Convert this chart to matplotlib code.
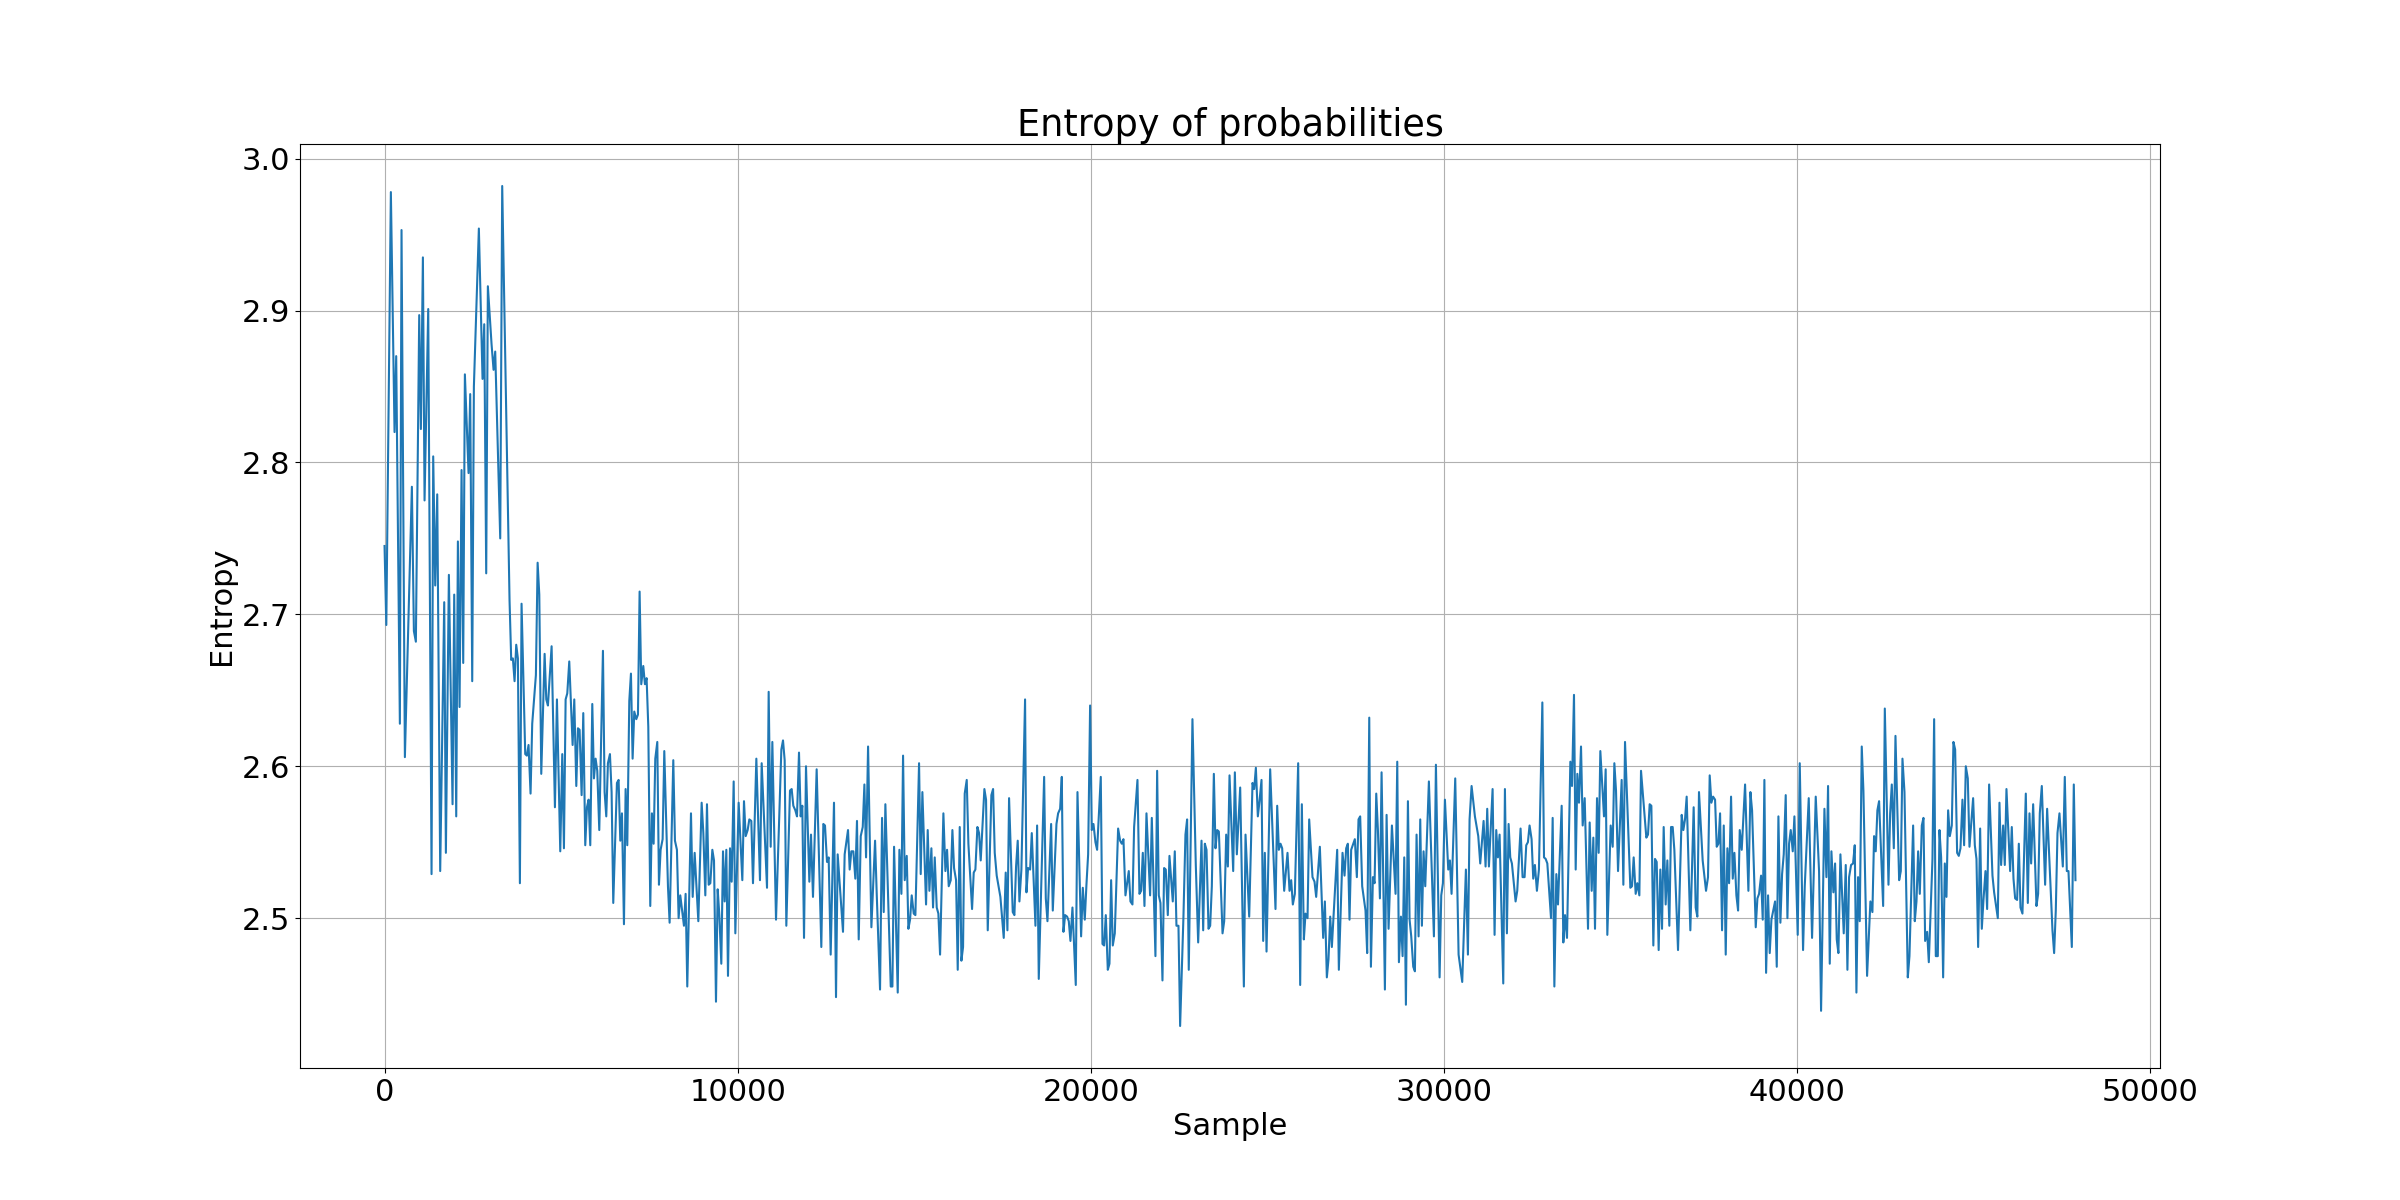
import matplotlib
matplotlib.use("Agg")
import matplotlib.pyplot as plt

# entropy readings, split into chunks along the sample axis
samples_a = [0, 50, 179, 283, 330, 434, 481, 576, 774, 831,
             887, 982, 1029, 1086, 1133, 1237, 1331, 1378, 1435, 1492,
             1576, 1690, 1737, 1822, 1926, 1973, 2030, 2077, 2124, 2181,
             2228, 2275, 2379, 2426, 2483, 2530, 2671, 2775, 2823, 2879,
             2926, 3030, 3087, 3134, 3276, 3332, 3540, 3587, 3634, 3682,
             3729, 3776, 3833, 3880, 3984, 4031, 4078, 4135, 4182, 4286]
entropy_a = [2.745, 2.693, 2.978, 2.820, 2.870, 2.628, 2.953, 2.606, 2.784, 2.689,
             2.682, 2.897, 2.822, 2.935, 2.775, 2.901, 2.529, 2.804, 2.719, 2.779,
             2.531, 2.708, 2.543, 2.726, 2.575, 2.713, 2.567, 2.748, 2.639, 2.795,
             2.668, 2.858, 2.793, 2.845, 2.656, 2.850, 2.954, 2.855, 2.891, 2.727,
             2.916, 2.878, 2.861, 2.873, 2.750, 2.982, 2.709, 2.670, 2.671, 2.656,
             2.680, 2.671, 2.523, 2.707, 2.608, 2.607, 2.614, 2.582, 2.628, 2.660]

samples_b = [4335, 4382, 4438, 4533, 4580, 4627, 4731, 4825, 4882, 4976,
             5033, 5080, 5128, 5175, 5231, 5326, 5373, 5430, 5477, 5524,
             5581, 5628, 5684, 5732, 5779, 5826, 5883, 5930, 5977, 6024,
             6081, 6185, 6232, 6279, 6326, 6383, 6430, 6477, 6581, 6628,
             6676, 6723, 6780, 6827, 6874, 6931, 6978, 7025, 7072, 7129,
             7176, 7223, 7270, 7327, 7374, 7421, 7469, 7525, 7572, 7620,
             7667, 7724, 7771, 7818, 7875, 7922, 8026, 8073, 8177, 8224,
             8280, 8328, 8375, 8479, 8526, 8573]
entropy_b = [2.734, 2.713, 2.595, 2.674, 2.644, 2.640, 2.679, 2.573, 2.644, 2.544,
             2.608, 2.546, 2.644, 2.648, 2.669, 2.614, 2.644, 2.587, 2.625, 2.624,
             2.581, 2.635, 2.548, 2.573, 2.578, 2.548, 2.641, 2.592, 2.605, 2.597,
             2.558, 2.676, 2.583, 2.567, 2.602, 2.608, 2.583, 2.510, 2.589, 2.591,
             2.551, 2.569, 2.496, 2.585, 2.548, 2.643, 2.661, 2.605, 2.636, 2.631,
             2.634, 2.715, 2.654, 2.666, 2.654, 2.658, 2.626, 2.508, 2.569, 2.549,
             2.605, 2.616, 2.522, 2.545, 2.552, 2.610, 2.521, 2.497, 2.604, 2.551,
             2.545, 2.500, 2.515, 2.495, 2.516, 2.455]

samples_c = [8678, 8726, 8782, 8886, 8980, 9028, 9084, 9131, 9179, 9226,
             9283, 9330, 9386, 9434, 9481, 9537, 9585, 9632, 9679, 9726,
             9783, 9830, 9887, 9934, 10028, 10132, 10179, 10227, 10283, 10330,
             10387, 10434, 10529, 10632, 10680, 10831, 10878, 10935, 10982, 11086,
             11237, 11284, 11331, 11378, 11482, 11529, 11576, 11633, 11680, 11737,
             11784, 11831, 11879, 11935, 12030, 12077, 12133, 12237, 12369, 12426,
             12473, 12530, 12577, 12634, 12728, 12785, 12832, 12983, 13030, 13125,
             13172, 13219, 13276, 13332, 13379]
entropy_c = [2.569, 2.514, 2.543, 2.498, 2.576, 2.556, 2.515, 2.575, 2.522, 2.523,
             2.545, 2.538, 2.445, 2.519, 2.502, 2.470, 2.544, 2.511, 2.545, 2.462,
             2.546, 2.524, 2.590, 2.490, 2.576, 2.525, 2.577, 2.554, 2.558, 2.565,
             2.564, 2.523, 2.605, 2.525, 2.602, 2.520, 2.649, 2.547, 2.616, 2.499,
             2.611, 2.617, 2.604, 2.495, 2.584, 2.585, 2.574, 2.571, 2.567, 2.609,
             2.567, 2.574, 2.487, 2.600, 2.524, 2.555, 2.514, 2.598, 2.481, 2.562,
             2.561, 2.537, 2.540, 2.476, 2.576, 2.448, 2.542, 2.491, 2.542, 2.558,
             2.532, 2.544, 2.544, 2.526, 2.564]

samples_d = [13428, 13485, 13542, 13589, 13636, 13693, 13787, 13891, 13938, 14032,
             14089, 14136, 14183, 14335, 14382, 14429, 14533, 14580, 14637, 14684,
             14731, 14788, 14835, 14882, 14929, 14986, 15033, 15137, 15184, 15231,
             15335, 15382, 15430, 15486, 15533, 15581, 15637, 15684, 15732, 15826,
             15883, 15930, 15977, 16034, 16081, 16128, 16185, 16232, 16289, 16336,
             16383, 16430, 16487, 16534, 16638, 16685, 16732, 16789, 16836, 16883,
             16987, 17034, 17082, 17185, 17233, 17280, 17336, 17440, 17535, 17591,
             17639, 17686, 17790, 17837, 17884, 17931, 17979, 18035, 18139]
entropy_d = [2.486, 2.554, 2.560, 2.588, 2.540, 2.613, 2.494, 2.551, 2.516, 2.453,
             2.566, 2.504, 2.575, 2.455, 2.455, 2.547, 2.451, 2.545, 2.516, 2.607,
             2.525, 2.541, 2.493, 2.499, 2.515, 2.503, 2.502, 2.602, 2.529, 2.583,
             2.509, 2.558, 2.518, 2.546, 2.507, 2.540, 2.507, 2.503, 2.476, 2.569,
             2.531, 2.545, 2.521, 2.525, 2.558, 2.533, 2.525, 2.466, 2.560, 2.472,
             2.481, 2.582, 2.591, 2.549, 2.506, 2.530, 2.532, 2.560, 2.556, 2.538,
             2.585, 2.578, 2.492, 2.581, 2.585, 2.543, 2.528, 2.514, 2.487, 2.530,
             2.492, 2.579, 2.504, 2.502, 2.534, 2.551, 2.511, 2.532, 2.644]

samples_e = [18178, 18225, 18282, 18329, 18433, 18480, 18527, 18679, 18726, 18773,
             18877, 18924, 19028, 19075, 19132, 19179, 19226, 19273, 19330, 19377,
             19424, 19481, 19575, 19623, 19726, 19774, 19830, 19877, 19925, 19981,
             20028, 20076, 20132, 20179, 20283, 20331, 20378, 20425, 20482, 20529,
             20576, 20623, 20680, 20774, 20831, 20878, 20925, 20982, 21076, 21123,
             21180, 21227, 21322, 21378, 21426, 21473, 21520, 21577, 21680, 21728,
             21831, 21879, 21926, 21973, 22030, 22077, 22124, 22181, 22228, 22322,
             22379, 22426, 22483, 22530, 22624, 22681, 22728, 22775, 22879, 22974]
entropy_e = [2.517, 2.533, 2.532, 2.556, 2.495, 2.561, 2.460, 2.593, 2.513, 2.498,
             2.562, 2.505, 2.562, 2.569, 2.572, 2.593, 2.491, 2.502, 2.501, 2.498,
             2.485, 2.507, 2.456, 2.583, 2.488, 2.520, 2.499, 2.522, 2.542, 2.640,
             2.558, 2.562, 2.550, 2.545, 2.593, 2.483, 2.482, 2.502, 2.466, 2.470,
             2.525, 2.482, 2.490, 2.559, 2.551, 2.549, 2.552, 2.515, 2.531, 2.511,
             2.509, 2.560, 2.591, 2.516, 2.518, 2.543, 2.508, 2.569, 2.515, 2.566,
             2.475, 2.597, 2.515, 2.510, 2.459, 2.533, 2.532, 2.502, 2.541, 2.511,
             2.544, 2.495, 2.495, 2.429, 2.501, 2.555, 2.565, 2.466, 2.631, 2.535]

samples_f = [23041, 23136, 23183, 23230, 23277, 23334, 23381, 23428, 23485, 23532,
             23579, 23627, 23731, 23778, 23834, 23882, 23929, 24033, 24080, 24136,
             24231, 24335, 24382, 24486, 24580, 24627, 24675, 24731, 24778, 24835,
             24882, 24929, 24977, 25080, 25231, 25279, 25326, 25373, 25420, 25477,
             25571, 25628, 25675, 25722, 25779, 25873, 25930, 25977, 26034, 26081,
             26138, 26185, 26279, 26336, 26383, 26487, 26581, 26629, 26685, 26732,
             26780, 26827, 26978, 27025, 27129, 27186, 27233, 27280, 27327, 27374,
             27478, 27535, 27582, 27629, 27686, 27780, 27827]
entropy_f = [2.484, 2.551, 2.492, 2.549, 2.545, 2.493, 2.495, 2.521, 2.595, 2.546,
             2.558, 2.557, 2.490, 2.498, 2.555, 2.534, 2.594, 2.531, 2.596, 2.542,
             2.586, 2.455, 2.555, 2.501, 2.589, 2.585, 2.599, 2.567, 2.577, 2.591,
             2.485, 2.543, 2.478, 2.598, 2.506, 2.574, 2.545, 2.549, 2.546, 2.518,
             2.543, 2.518, 2.525, 2.509, 2.516, 2.602, 2.456, 2.575, 2.486, 2.503,
             2.500, 2.565, 2.527, 2.524, 2.514, 2.547, 2.487, 2.511, 2.461, 2.473,
             2.501, 2.481, 2.545, 2.466, 2.543, 2.528, 2.546, 2.549, 2.499, 2.545,
             2.552, 2.527, 2.565, 2.567, 2.521, 2.505, 2.477]

samples_g = [27886, 27933, 27990, 28037, 28084, 28131, 28188, 28235, 28282, 28329,
             28377, 28433, 28528, 28631, 28679, 28726, 28783, 28830, 28877, 28924,
             28981, 29028, 29075, 29132, 29179, 29226, 29283, 29330, 29377, 29424,
             29472, 29575, 29717, 29774, 29878, 29925, 29972, 30029, 30123, 30170,
             30217, 30321, 30416, 30519, 30623, 30680, 30727, 30784, 30878, 30973,
             31029, 31124, 31180, 31227, 31275, 31379, 31435, 31482, 31530, 31577,
             31681, 31728, 31784, 31832, 31879, 31926, 32030, 32077, 32171, 32228,
             32285, 32332, 32379, 32426, 32483, 32530, 32577, 32634, 32691]
entropy_g = [2.632, 2.468, 2.527, 2.523, 2.582, 2.558, 2.513, 2.596, 2.527, 2.453,
             2.568, 2.493, 2.561, 2.516, 2.603, 2.471, 2.501, 2.475, 2.540, 2.443,
             2.577, 2.499, 2.488, 2.468, 2.465, 2.555, 2.488, 2.565, 2.495, 2.544,
             2.521, 2.590, 2.488, 2.601, 2.461, 2.515, 2.523, 2.578, 2.532, 2.538,
             2.516, 2.592, 2.476, 2.458, 2.532, 2.476, 2.565, 2.587, 2.567, 2.554,
             2.536, 2.564, 2.534, 2.572, 2.534, 2.585, 2.489, 2.558, 2.540, 2.555,
             2.457, 2.585, 2.490, 2.562, 2.540, 2.536, 2.511, 2.518, 2.559, 2.527,
             2.527, 2.548, 2.550, 2.561, 2.552, 2.526, 2.535, 2.518, 2.532]

samples_h = [32788, 32835, 32882, 32929, 33033, 33080, 33128, 33184, 33231, 33335,
             33382, 33430, 33486, 33581, 33628, 33684, 33732, 33779, 33826, 33883,
             33930, 33987, 34081, 34128, 34185, 34232, 34279, 34336, 34383, 34430,
             34534, 34581, 34628, 34723, 34780, 34827, 34874, 34931, 35034, 35082,
             35129, 35280, 35327, 35374, 35431, 35478, 35535, 35582, 35733, 35780,
             35827, 35875, 35931, 35978, 36026, 36082, 36129, 36177, 36224, 36280,
             36328, 36384, 36432, 36479, 36526, 36630, 36734, 36781, 36828, 36875,
             36979, 37073, 37130, 37177, 37224, 37328, 37423, 37479, 37527]
entropy_h = [2.642, 2.540, 2.539, 2.536, 2.500, 2.566, 2.455, 2.529, 2.509, 2.574,
             2.484, 2.502, 2.487, 2.603, 2.587, 2.647, 2.532, 2.595, 2.576, 2.613,
             2.561, 2.579, 2.493, 2.563, 2.518, 2.553, 2.493, 2.579, 2.543, 2.610,
             2.567, 2.598, 2.489, 2.561, 2.547, 2.602, 2.584, 2.531, 2.591, 2.522,
             2.616, 2.520, 2.521, 2.540, 2.516, 2.523, 2.515, 2.597, 2.553, 2.555,
             2.575, 2.574, 2.482, 2.539, 2.537, 2.479, 2.532, 2.493, 2.560, 2.509,
             2.538, 2.495, 2.560, 2.560, 2.545, 2.479, 2.568, 2.558, 2.565, 2.580,
             2.492, 2.573, 2.507, 2.501, 2.583, 2.538, 2.518, 2.527, 2.594]

samples_i = [37575, 37623, 37679, 37726, 37774, 37821, 37877, 37925, 37981, 38028,
             38076, 38132, 38180, 38227, 38283, 38331, 38378, 38434, 38529, 38623,
             38680, 38727, 38831, 38878, 38925, 38982, 39029, 39076, 39124, 39180,
             39227, 39275, 39378, 39426, 39473, 39529, 39577, 39624, 39680, 39728,
             39775, 39822, 39879, 39926, 40020, 40077, 40171, 40219, 40332, 40426,
             40530, 40624, 40681, 40776, 40832, 40879, 40927, 40974, 41030, 41078,
             41125, 41172, 41229, 41323, 41380, 41427, 41474, 41531, 41587, 41635,
             41682, 41729, 41776, 41833, 41880, 41984, 42078, 42135, 42182, 42229,
             42276, 42324]
entropy_i = [2.576, 2.580, 2.578, 2.547, 2.549, 2.569, 2.492, 2.561, 2.476, 2.546,
             2.523, 2.580, 2.526, 2.543, 2.515, 2.505, 2.558, 2.545, 2.588, 2.518,
             2.583, 2.571, 2.494, 2.513, 2.516, 2.528, 2.499, 2.591, 2.464, 2.515,
             2.477, 2.499, 2.511, 2.468, 2.567, 2.497, 2.529, 2.542, 2.581, 2.500,
             2.549, 2.558, 2.544, 2.567, 2.489, 2.602, 2.479, 2.521, 2.579, 2.487,
             2.580, 2.531, 2.439, 2.572, 2.527, 2.587, 2.470, 2.544, 2.517, 2.536,
             2.486, 2.477, 2.542, 2.490, 2.535, 2.466, 2.527, 2.535, 2.536, 2.548,
             2.451, 2.527, 2.498, 2.613, 2.584, 2.462, 2.511, 2.504, 2.554, 2.544,
             2.571, 2.577]

samples_j = [42439, 42486, 42590, 42637, 42684, 42741, 42788, 42892, 42939, 42986,
             43043, 43137, 43184, 43288, 43335, 43383, 43430, 43477, 43534, 43581,
             43628, 43685, 43732, 43836, 43883, 43930, 43987, 44034, 44081, 44138,
             44185, 44232, 44279, 44327, 44383, 44430, 44478, 44534, 44581, 44629,
             44685, 44732, 44780, 44836, 44884, 44987, 45035, 45082, 45129, 45186,
             45233, 45280, 45337, 45384, 45440, 45535, 45582, 45686, 45733, 45780,
             45837, 45884, 45931, 46035, 46082, 46130, 46177, 46233, 46281, 46328,
             46384, 46479, 46536, 46583, 46630, 46687, 46781, 46828, 46875, 46932,
             47026, 47083, 47234, 47281, 47328, 47376, 47432, 47527, 47583, 47640,
             47687, 47782, 47838, 47885]
entropy_j = [2.508, 2.638, 2.522, 2.569, 2.588, 2.546, 2.620, 2.525, 2.531, 2.605,
             2.583, 2.461, 2.475, 2.561, 2.498, 2.511, 2.544, 2.516, 2.561, 2.566,
             2.485, 2.491, 2.471, 2.539, 2.631, 2.475, 2.475, 2.558, 2.540, 2.461,
             2.536, 2.514, 2.571, 2.554, 2.561, 2.616, 2.611, 2.543, 2.541, 2.546,
             2.578, 2.548, 2.600, 2.592, 2.547, 2.579, 2.548, 2.539, 2.481, 2.559,
             2.493, 2.512, 2.531, 2.506, 2.588, 2.528, 2.517, 2.500, 2.576, 2.535,
             2.561, 2.535, 2.585, 2.531, 2.560, 2.526, 2.513, 2.512, 2.549, 2.507,
             2.503, 2.582, 2.510, 2.569, 2.536, 2.575, 2.508, 2.516, 2.569, 2.587,
             2.522, 2.572, 2.492, 2.477, 2.505, 2.556, 2.569, 2.534, 2.593, 2.531,
             2.531, 2.481, 2.588, 2.525]

# stitch the chunks together
samples = (samples_a + samples_b + samples_c + samples_d + samples_e
           + samples_f + samples_g + samples_h + samples_i + samples_j)
entropy = (entropy_a + entropy_b + entropy_c + entropy_d + entropy_e
           + entropy_f + entropy_g + entropy_h + entropy_i + entropy_j)
assert len(samples) == len(entropy)

plt.rcParams["font.size"] = 22

fig, ax = plt.subplots(figsize=(24, 12), dpi=100)
ax.plot(samples, entropy)
ax.set_title("Entropy of probabilities")
ax.set_xlabel("Sample")
ax.set_ylabel("Entropy")
ax.grid(True)
fig.savefig("out.png")
